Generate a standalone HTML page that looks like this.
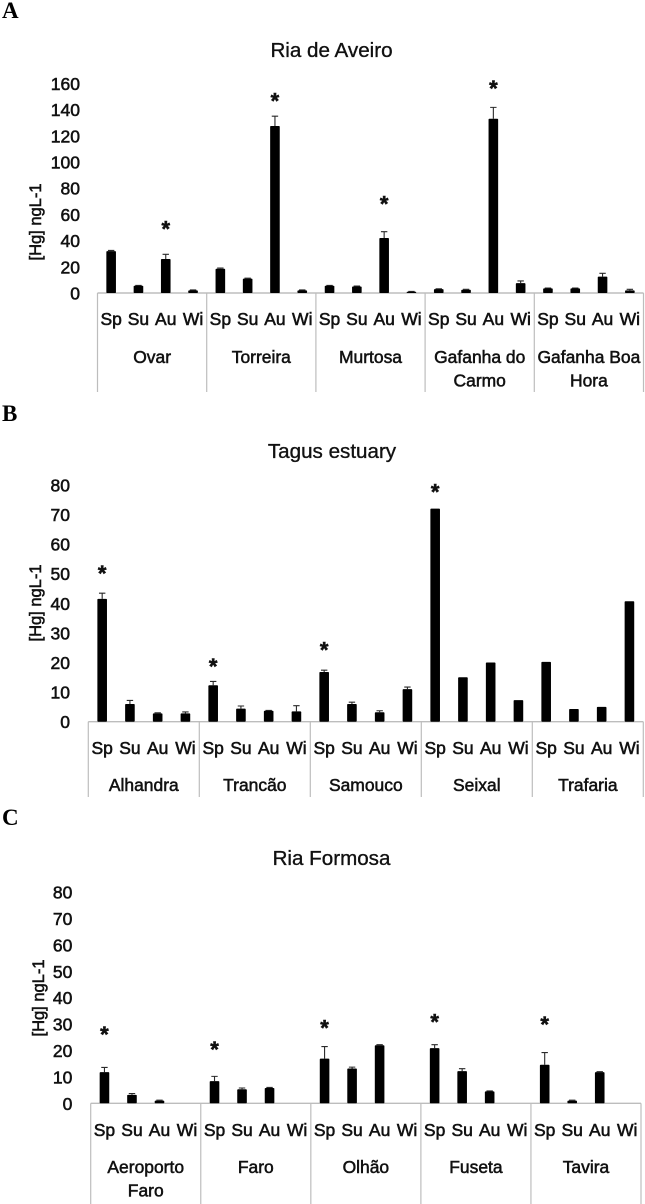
<!DOCTYPE html>
<html lang="en">
<head>
<meta charset="utf-8">
<title>Mercury concentration by site and season</title>
<style>
html,body{margin:0;padding:0;background:#fff;}
svg{display:block;filter:blur(0.35px);}
text{font-family:"Liberation Sans",sans-serif;fill:#111;stroke:#111;stroke-width:0.55px;}
.letter{font-family:"Liberation Serif",serif;font-weight:bold;font-size:23px;fill:#000;stroke:none;}
.title{font-size:20.6px;text-anchor:middle;stroke-width:0.35px;}
</style>
</head>
<body>
<svg id="figure" width="645" height="1204" viewBox="0 0 645 1204" xmlns="http://www.w3.org/2000/svg">
  <text class="letter" x="2" y="18">A</text>
  <text class="letter" x="2" y="421">B</text>
  <text class="letter" x="2" y="825">C</text>
  <text class="title" x="331.5" y="57">Ria de Aveiro</text>
  <text class="title" x="332" y="458">Tagus estuary</text>
  <text class="title" x="331.5" y="865">Ria Formosa</text>
</svg>
<script>
const seasons = ['Sp', 'Su', 'Au', 'Wi'];
const yAxisTitle = '[Hg] ngL-1';

const aveiroSites = [['Ovar'], ['Torreira'], ['Murtosa'], ['Gafanha do', 'Carmo'], ['Gafanha Boa', 'Hora']];
const aveiroTicks = [0, 20, 40, 60, 80, 100, 120, 140, 160];
const aveiroValues = [32, 5.5, 26, 2, 18.5, 11, 127.5, 2, 5.5, 5, 42, 1, 3, 2.5, 133, 7.5, 3.5, 3.5, 12.5, 2];
const aveiroErrorTops = [32.5, 5.8, 29.5, 2.3, 19, 11.3, 135, 2.3, 5.8, 5.3, 46.8, 1.2, 3.2, 2.8, 141.7, 9.2, 3.8, 3.8, 15, 2.8];
const aveiroStars = [null, null, 52, null, null, null, 149.5, null, null, null, 71, null, null, null, 159, null, null, null, null, null];

const tagusSites = [['Alhandra'], ['Trancão'], ['Samouco'], ['Seixal'], ['Trafaria']];
const tagusTicks = [0, 10, 20, 30, 40, 50, 60, 70, 80];
const tagusValues = [41.5, 6, 2.8, 2.8, 12.3, 4.4, 3.7, 3.5, 16.8, 6, 3.2, 11, 72, 15, 20, 7.3, 20.2, 4.3, 5, 40.7];
const tagusErrorTops = [43.4, 7.2, 3, 3.3, 13.6, 5.3, 3.8, 5.4, 17.4, 6.6, 3.7, 11.7, 72, 15, 20, 7.3, 20.2, 4.3, 5, 40.7];
const tagusStars = [51.5, null, null, null, 20, null, null, null, 25.6, null, null, null, 79, null, null, null, null, null, null, null];

const formosaSites = [['Aeroporto', 'Faro'], ['Faro'], ['Olhão'], ['Fuseta'], ['Tavira']];
const formosaTicks = [0, 10, 20, 30, 40, 50, 60, 70, 80];
const formosaValues = [11.8, 3.2, 1, 0, 8.4, 5.3, 5.8, 0, 16.9, 13.2, 22, 0, 20.9, 12.2, 4.5, 0, 14.6, 1, 11.8, 0];
const formosaErrorTops = [13.6, 3.7, 1.2, 0, 10.2, 5.8, 6, 0, 21.5, 13.7, 22.2, 0, 22.2, 13.1, 4.7, 0, 19.2, 1.2, 12, 0];
const formosaStars = [27.6, null, null, null, 21.9, null, null, null, 30.1, null, null, null, 32.3, null, null, null, 31.4, null, null, null];

const svgNS = 'http://www.w3.org/2000/svg';
const root = document.getElementById('figure');

function make(tag, parent, props) {
  const el = document.createElementNS(svgNS, tag);
  for (const key in props) el.setAttribute(key, props[key]);
  parent.appendChild(el);
  return el;
}

function label(parent, str, x, y, size, anchor, sx) {
  const el = make('text', parent, {
    transform: 'translate(' + x + ' ' + y + ') scale(' + sx + ' 1)',
    'font-size': size,
    'text-anchor': anchor
  });
  el.textContent = str;
  return el;
}

function drawPanel(cfg) {
  const groupWidth = (cfg.right - cfg.left) / cfg.sites.length;
  const stepWidth = groupWidth / seasons.length;
  const yScale = function (v) { return cfg.baseY - v * cfg.unit; };
  const xScale = function (i) { return cfg.left + (i + 0.5) * stepWidth; };

  const panel = make('g', root, {});
  
  

  cfg.ticks.forEach(function (tick) {
    const t = label(panel, String(tick), cfg.tickRight, yScale(tick) + 6.5, 17.5, 'end', 1);
    
    
  });

  const yTitle = make('text', panel, {
    transform: 'translate(' + cfg.titleX + ' ' + cfg.titleY + ') rotate(-90)',
    'font-size': 16.5,
    'text-anchor': 'middle'
  });
  yTitle.textContent = yAxisTitle;
  
  

  const axis = make('line', panel, {
    x1: cfg.left, x2: cfg.right, y1: cfg.baseY, y2: cfg.baseY,
    stroke: '#bdbdbd', 'stroke-width': 1.4
  });
  
  

  for (let d = 0; d <= cfg.sites.length; d++) {
    const dx = cfg.left + d * groupWidth;
    const divider = make('line', panel, {
      x1: dx, x2: dx, y1: cfg.baseY, y2: cfg.dividerBottom,
      stroke: '#bdbdbd', 'stroke-width': 1.2
    });
    
    
  }

  cfg.values.forEach(function (value, i) {
    const x = xScale(i);
    const top = yScale(value);
    const season = seasons[i % seasons.length];
    const errTop = cfg.errors[i];

    if (errTop > value) {
      const err = make('path', panel, {
        d: 'M' + x + ' ' + top + 'V' + yScale(errTop) + 'M' + (x - 3.2) + ' ' + yScale(errTop) + 'H' + (x + 3.2),
        stroke: '#2a2a2a', 'stroke-width': 1.1, fill: 'none'
      });
      
      
    }

    if (value > 0) {
      const bar = make('rect', panel, {
        x: x - 4.8, y: top, width: 9.6, height: cfg.baseY - top, fill: '#000', rx: 0.8
      });
      
      
    }

    const seasonText = label(panel, season, x, cfg.seasonY, 17.5, 'middle', 1);
    
    

    if (cfg.stars[i] !== null) {
      const star = make('text', panel, {
        x: x, y: yScale(cfg.stars[i]) + 11.5,
        'font-size': 22, 'font-weight': 'bold', 'text-anchor': 'middle'
      });
      star.textContent = '*';
      
      
    }
  });

  cfg.sites.forEach(function (lines, g) {
    lines.forEach(function (line, n) {
      const cx = cfg.left + (g + 0.5) * groupWidth;
      const siteText = label(panel, line, cx, cfg.siteY + n * 23.5, 18, 'middle', 0.97);
      
      
    });
  });
}

drawPanel({
  name: 'chart-ria-de-aveiro', sites: aveiroSites, ticks: aveiroTicks,
  values: aveiroValues, errors: aveiroErrorTops, stars: aveiroStars,
  left: 97.5, right: 643.5, baseY: 293, unit: 1.31, tickRight: 80,
  titleX: 41, titleY: 222, seasonY: 325, siteY: 363, dividerBottom: 392
});
drawPanel({
  name: 'chart-tagus-estuary', sites: tagusSites, ticks: tagusTicks,
  values: tagusValues, errors: tagusErrorTops, stars: tagusStars,
  left: 88.3, right: 643.3, baseY: 721.7, unit: 2.96, tickRight: 70,
  titleX: 41, titleY: 603, seasonY: 754, siteY: 791, dividerBottom: 797
});
drawPanel({
  name: 'chart-ria-formosa', sites: formosaSites, ticks: formosaTicks,
  values: formosaValues, errors: formosaErrorTops, stars: formosaStars,
  left: 90.7, right: 641, baseY: 1103.3, unit: 2.64, tickRight: 72.3,
  titleX: 44, titleY: 998, seasonY: 1136, siteY: 1173, dividerBottom: 1204
});
</script>
</body>
</html>
